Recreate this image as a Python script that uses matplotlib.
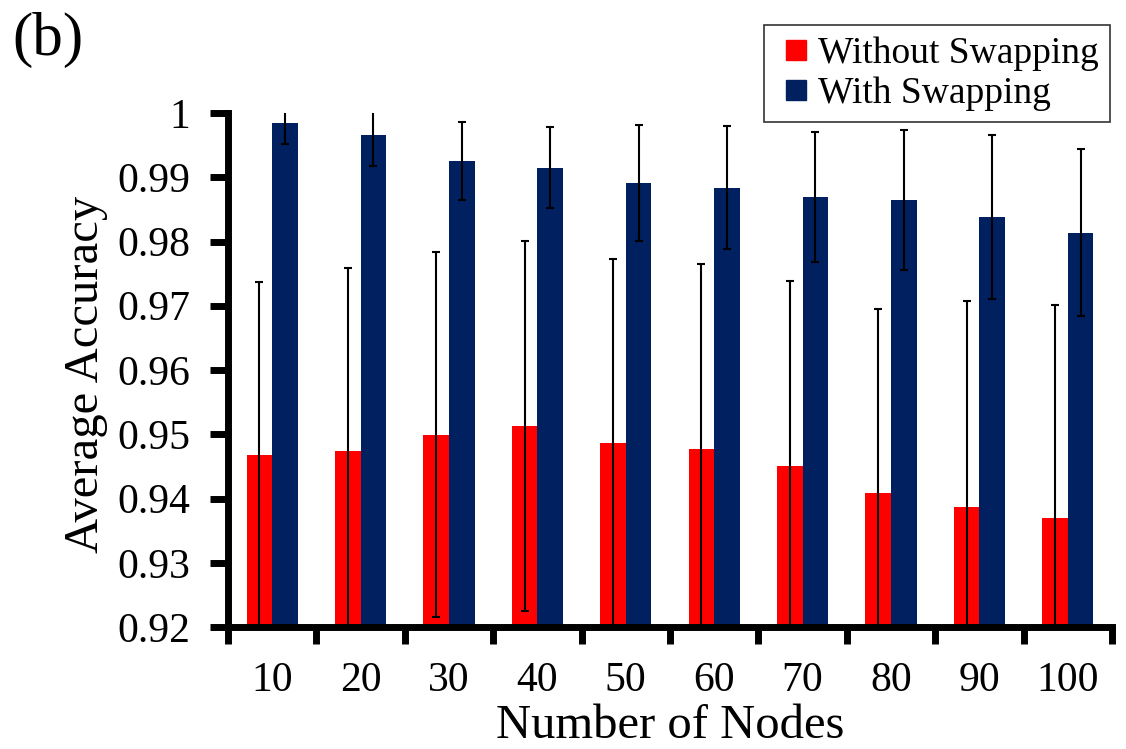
import matplotlib
matplotlib.use("Agg")
import matplotlib.pyplot as plt
from matplotlib.lines import Line2D
import numpy as np

nodes = ["10", "20", "30", "40", "50", "60", "70", "80", "90", "100"]
without_swap = [0.9467, 0.9474, 0.9499, 0.9513, 0.9487, 0.9477, 0.9451, 0.9409, 0.9387, 0.9369]
without_err = [0.0270, 0.0284, 0.0284, 0.0288, 0.0286, 0.0288, 0.0287, 0.0286, 0.0321, 0.0332]
with_swap = [0.9985, 0.9965, 0.9925, 0.9915, 0.9891, 0.9884, 0.9869, 0.9864, 0.9838, 0.9814]
with_err = [0.0034, 0.0048, 0.0061, 0.0063, 0.0090, 0.0096, 0.0101, 0.0109, 0.0127, 0.0130]
yticks = [0.92, 0.93, 0.94, 0.95, 0.96, 0.97, 0.98, 0.99, 1.0]
ytick_labels = ["0.92", "0.93", "0.94", "0.95", "0.96", "0.97", "0.98", "0.99", "1"]
series_names = ["Without Swapping", "With Swapping"]

plt.rcParams['font.family'] = ['Liberation Serif', 'DejaVu Serif']

fig = plt.figure(figsize=(11.26, 7.49), dpi=100)
ax = fig.add_axes([228/1126, 1-627/749, (1112-228)/1126, (627-113)/749])

x = np.arange(len(nodes)) + 0.5
w = 0.29
red = '#FF0000'
navy = '#002060'
ekw = dict(elinewidth=1.5, capthick=1.5, ecolor='black')
ax.bar(x - w/2, without_swap, w, color=red, zorder=2)
ax.bar(x + w/2, with_swap, w, color=navy, zorder=2)
ax.errorbar(x - w/2, without_swap, yerr=without_err, fmt='none', capsize=3, zorder=3, **ekw)
ax.errorbar(x + w/2, with_swap, yerr=with_err, fmt='none', capsize=3, zorder=3, **ekw)

ax.set_ylim(0.92, 1.0)
ax.set_xlim(0, len(nodes))
ax.set_yticks(yticks)
ax.set_yticklabels(ytick_labels, fontsize=30)
ax.set_xticks(np.arange(len(nodes) + 1))
ax.set_xticklabels([])
ax.set_xticks(x, minor=True)
ax.set_xticklabels(nodes, minor=True, fontsize=30)
ax.tick_params(axis='x', which='major', direction='out', length=12, width=5, color='black')
ax.tick_params(axis='x', which='minor', length=0, pad=25)
ax.tick_params(axis='y', direction='out', length=13, width=5, pad=14)

for s in ['top', 'right']:
    ax.spines[s].set_visible(False)
for s in ['left', 'bottom']:
    ax.spines[s].set_linewidth(5)
    ax.spines[s].set_capstyle('projecting')

ax.set_ylabel('Average Accuracy', fontsize=35)
ax.yaxis.set_label_coords(-0.1352, 0.492)
ax.set_xlabel('Number of Nodes', fontsize=35)
ax.xaxis.set_label_coords(0.5, -0.150)

fig.text(12/1126, 1-12/749, '(b)', fontsize=44, va='top', ha='left')

handles = [Line2D([], [], linestyle='none', marker='s', markersize=14,
                  markerfacecolor=c, markeredgecolor=c) for c in (red, navy)]
leg = ax.legend(handles, series_names, loc='upper right', bbox_to_anchor=(1110/1126, 1-25/749),
                bbox_transform=fig.transFigure, fontsize=27, frameon=True,
                fancybox=False, edgecolor='black', handlelength=1.1,
                handletextpad=0.05, borderpad=0.3, labelspacing=0.15, borderaxespad=0)
leg.get_frame().set_linewidth(1.2)

fig.savefig('out.png', dpi=100)
